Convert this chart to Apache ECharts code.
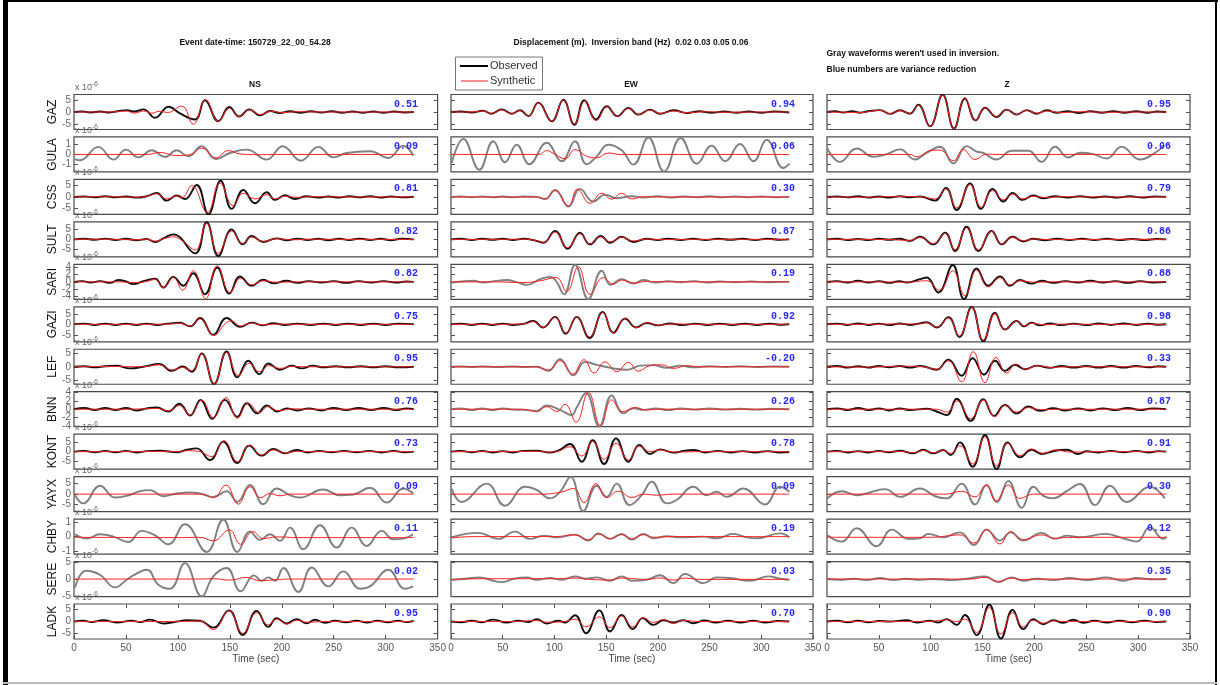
<!DOCTYPE html>
<html><head><meta charset="utf-8">
<script src="https://cdn.jsdelivr.net/npm/echarts@6/dist/echarts.min.js"></script>
<style>html,body{margin:0;padding:0;background:#fff}#c{width:1220px;height:685px}</style>
</head><body><div id="c"></div>
<script>
// ---------------- DATA ----------------
const stations = ['GAZ','GULA','CSS','SULT','SARI','GAZI','LEF','BNN','KONT','YAYX','CHBY','SERE','LADK'];
const components = ['NS','EW','Z'];
const yLimits = [7.3,1.8,7.6,8.75,4.9,8.3,6.4,4.2,9.2,8.3,1.23,5.15,7.2];
const yTickSets = [[-5,0,5],[-1,0,1],[-5,0,5],[-5,0,5],[-4,-2,0,2,4],[-5,0,5],[-5,0,5],[-4,-2,0,2,4],[-5,0,5],[-5,0,5],[-1,0,1],[-5,0,5],[-5,0,5]];
const xTicks = [0,50,100,150,200,250,300,350];
const vrNS = ['0.51','0.09','0.81','0.82','0.82','0.75','0.95','0.76','0.73','0.09','0.11','0.02','0.95'];
const vrEW = ['0.94','0.06','0.30','0.87','0.19','0.92','-0.20','0.26','0.78','0.09','0.19','0.03','0.70'];
const vrZ  = ['0.95','0.06','0.79','0.86','0.88','0.98','0.33','0.87','0.91','0.30','0.12','0.35','0.90'];
const usedNS = [1,0,1,1,1,1,1,1,1,0,0,0,1];
const usedEW = [1,0,0,1,0,1,0,0,1,0,0,0,1];
const usedZ  = [1,0,1,1,1,1,1,1,1,0,0,0,1];

// waveforms: flat [time(s), value(x1e-6), ...]
const GAZ_NS_obs = [0,0, 8,0.2, 16,-0.2, 25,0.2, 33,-0.2, 42,0.3, 51,0.8, 58,0.2, 67,1.1, 78,-2.4, 91,2.2, 102,-0.6, 116.5,-3.1, 126,4.9, 139,-3.8, 149.5,2.1, 159,-1.9, 168.7,1.1, 179,-1.4, 189,0.4, 198,-0.4, 208,0.3, 218,-0.3, 228,0.3, 238,-0.2, 248,0.3, 258,-0.3, 268,0.2, 278,-0.3, 288,0.2, 298,-0.3, 308,0.2, 318,-0.2, 327,0];
const GAZ_NS_syn = [0,0, 20,0, 40,0.1, 51,0.4, 58,-0.5, 67,0.4, 75,-0.5, 82,0.3, 90,-0.2, 103.6,2.5, 114.8,-5.1, 126.7,5.1, 139,-3.8, 149.5,1.5, 159,-1.9, 169,0.9, 179,-1.1, 190,0.3, 200,-0.2, 215,0.1, 240,0, 327,0];
const GAZ_EW_obs = [0,0, 10,0.2, 20,-0.2, 31,0.5, 39,-0.7, 49,1.1, 58.7,-0.7, 66.7,0.7, 74.8,-1.7, 84.4,3.9, 97.4,-3.9, 108.6,5.1, 119.2,-5.3, 128.9,4.9, 140.2,-3.1, 150.6,2.4, 160.8,-1.8, 171.5,1.7, 181.1,-1.1, 192.4,1.0, 202,-0.7, 215,0.7, 228,-0.4, 240,0.3, 252,-0.3, 264,0.2, 276,-0.3, 288,0.2, 300,-0.3, 312,0.2, 327,-0.2];
const GAZ_EW_syn = [0,0, 20,0, 31,0.4, 39,-0.6, 49,0.9, 58.7,-0.8, 66.7,0.6, 74.8,-1.5, 84.4,3.7, 97.4,-3.8, 108.6,5.0, 119.2,-5.0, 129.5,4.7, 140.5,-3.6, 151,2.2, 161,-1.9, 171.5,1.4, 181.5,-1.0, 192.4,0.8, 202,-0.6, 215,0.4, 228,-0.3, 245,0.1, 270,-0.1, 300,0, 327,0];
const GAZ_Z_obs = [0,0, 8,0.3, 15.7,-0.2, 24,0.3, 31.8,-0.3, 41,0.4, 51.1,0.8, 60.7,-0.8, 70.4,0.7, 80,-0.7, 88,3.05, 99.3,-6.0, 111.5,7.2, 122.4,-6.9, 133,5.6, 143.3,-3.5, 152.3,1.8, 163.6,-2.1, 173.2,1.0, 182.9,-1.1, 192.5,0.8, 202.2,-0.7, 211.8,0.7, 222,-0.3, 232,0.3, 243,-0.4, 254,0.3, 265,-0.3, 276,0.3, 287,-0.3, 298,0.3, 309,-0.3, 318,0.2, 327,0];
const GAZ_Z_syn = [0,0, 15.7,-0.1, 31.8,-0.2, 51.1,0.7, 60.7,-0.7, 70.4,0.6, 80,-0.6, 88,2.9, 99.3,-6.0, 111.5,7.2, 122.4,-7.0, 133,6.0, 143.3,-3.6, 152.3,1.7, 163.6,-2.0, 173.2,0.9, 182.9,-1.0, 192.5,0.6, 202.2,-0.5, 211.8,0.4, 225,-0.2, 245,0.1, 270,-0.1, 300,0, 327,0];

const GULA_NS_obs = [1,-0.47, 5.8,-0.6, 23.4,0.78, 37.9,-0.53, 50,0.5, 61.9,-0.3, 74.8,0.43, 87.6,-0.26, 98.8,0.43, 110,-0.2, 122.9,0.85, 136.7,-0.47, 150.2,0.15, 166.2,0.5, 185.5,-0.53, 200.8,0.85, 218.5,-0.64, 235.2,0.78, 249.6,-0.3, 262.5,0.15, 284.9,0.33, 302.6,-0.36, 317,0.9, 326.6,-0.12];
const GULA_NS_syn = [0,0, 70,0, 82.8,0.2, 99.1,-0.12, 111.9,0.0, 122.9,0.65, 136.7,-0.36, 148.5,0.4, 159.8,0.05, 179,-0.02, 200,0, 327,0];
const GULA_EW_obs = [0.6,-0.88, 11.9,1.6, 27.4,-1.57, 40.9,1.36, 52.2,-0.8, 63.5,1.0, 75.7,-1.0, 92.5,1.2, 107,-0.7, 119.9,1.36, 131.2,-1.0, 140.9,-0.2, 152.1,1.0, 165,0.43, 176.3,-1.05, 190.8,1.75, 206,-1.75, 222.1,1.7, 237.6,-0.95, 252.1,0.9, 265,-0.7, 279.5,1.08, 292.3,-0.7, 305.3,1.5, 321.3,-1.4, 327.2,-0.95];
const GULA_EW_syn = [0,0, 85,0, 92.5,0.4, 100,0.05, 110.2,-0.45, 119.9,0.5, 131.2,-0.19, 140.9,-0.35, 152.1,0.15, 163.4,0, 327,0];
const GULA_Z_obs = [0.3,0.62, 12.5,-0.76, 28.6,0.62, 44.7,-0.24, 57.5,0.03, 70.4,0.52, 84.8,-0.52, 96.1,0.17, 108.9,0.79, 121.8,-0.93, 134.6,0.86, 144.3,0.28, 150.7,0.17, 163.6,-0.52, 178,0.38, 194.1,0.38, 206.9,-0.76, 219.8,0.79, 232.6,-0.31, 243.9,0.17, 256.7,0.03, 269.6,-0.41, 284.1,0.79, 301.7,-0.52, 317.8,0.28, 324.2,0.86];
const GULA_Z_syn = [0,0, 80,0, 86.5,-0.24, 99.3,0.38, 108.9,0.45, 121.8,-0.65, 131.4,0.5, 142.7,-0.52, 153.9,0.03, 165,0, 327,0];

const CSS_NS_obs = [0,0, 10,0.2, 20,-0.2, 30,0.3, 40,-0.2, 50,0.2, 60,-0.3, 70,0.3, 79.6,1.7, 89.2,-1.6, 98.8,0.6, 106.8,-0.9, 118.1,5.2, 129.3,-7.5, 141.2,7.0, 151.8,-5.2, 163,3.0, 174.2,-2.75, 185.5,2.0, 193.5,-1.3, 203.1,0.7, 212.7,-0.9, 224,0.3, 235,-0.3, 245,0.2, 255,-0.3, 265,0.3, 275,-0.2, 285,0.3, 295,-0.3, 305,0.2, 315,-0.2, 327,0.1];
const CSS_NS_syn = [0,0, 30,0.1, 60,-0.1, 70,0.2, 79.6,1.4, 89.2,-0.9, 98.8,0.4, 104,-0.3, 113.3,4.9, 128.3,-6.7, 140.5,6.0, 153.3,-3.8, 163,1.6, 174.2,-0.9, 185.5,1.0, 193.5,-0.9, 203.1,0.3, 215,-0.2, 230,0.1, 260,0, 327,0];
const CSS_EW_obs = [0,0, 10,0.15, 20,-0.15, 30,0.2, 40,-0.2, 50,0.15, 60,-0.2, 70,0.2, 82.8,0, 90.9,-0.9, 100.6,3.0, 113.5,-4.2, 124.7,3.5, 137.6,-2.0, 148.9,1.0, 160.2,-0.6, 174.7,0.3, 186,-0.3, 200,0.3, 212,-0.3, 225,0.2, 238,-0.2, 250,0.3, 262,-0.2, 275,0.2, 288,-0.2, 300,0.2, 314,-0.2, 327,0];
const CSS_EW_syn = [0,0, 60,0, 82.8,0, 90.9,-0.8, 100.6,2.75, 113.5,-3.9, 122.2,3.3, 134.4,-2.75, 145.7,1.6, 155.4,-1.0, 165,1.6, 174.7,-0.9, 186,0.1, 200,0, 327,0];
const CSS_Z_obs = [0,0, 10,0.2, 20,-0.2, 30,0.3, 40,-0.3, 50,0.2, 60,-0.3, 70,0.3, 80,-0.2, 89.7,0.2, 104.1,-1.6, 114.7,3.9, 125,-5.7, 137.9,5.9, 148.5,-5.2, 159.7,3.5, 170,-2.0, 179,1.7, 188.6,-1.3, 198.9,0.6, 208.5,-0.6, 220,0.3, 232,-0.3, 244,0.3, 256,-0.3, 268,0.2, 280,-0.3, 292,0.3, 304,-0.3, 316,0.2, 327,0];
const CSS_Z_syn = [0,0, 40,-0.1, 70,0.2, 89.7,0.1, 104.1,-0.9, 114.7,3.5, 125,-4.8, 137.9,5.4, 148.5,-4.5, 159.7,2.75, 170,-1.3, 179,1.3, 188.6,-0.9, 198.9,0.3, 210,-0.2, 230,0.1, 260,0, 327,0];

const SULT_NS_obs = [0,0, 10,0.3, 20,-0.2, 30,0.4, 40,-0.3, 50,0.3, 60,-0.4, 70,0.2, 78,-1.3, 86,0.5, 95.6,2.5, 116.5,-7.0, 127.7,8.6, 138.9,-8.3, 151.8,5.0, 162.4,-2.5, 171,1.7, 182.2,-1.3, 195,0.5, 205,-0.4, 215,0.4, 225,-0.3, 235,0.3, 245,-0.4, 255,0.3, 265,-0.3, 275,0.4, 285,-0.3, 295,0.3, 305,-0.4, 315,0.3, 327,0];
const SULT_NS_syn = [0,0, 30,0.1, 60,-0.2, 70,0.1, 78,-0.9, 86,0.3, 95.6,1.3, 104.6,-0.8, 116.5,-5.3, 127.7,8.0, 138.9,-7.0, 151.8,4.2, 162.4,-2.0, 171,1.2, 182.2,-1.0, 195,0.3, 210,-0.2, 230,0.1, 260,0, 327,0];
const SULT_EW_obs = [0,0, 10,0.3, 20,-0.3, 30,0.3, 40,-0.2, 50,0.3, 60,-0.3, 70,0.3, 82.8,-0.8, 89.3,-1.7, 100.6,4.2, 112.8,-4.7, 124.7,3.3, 134.4,-2.5, 144.8,1.7, 153.8,-1.7, 165,1.3, 176.3,-1.3, 189.2,0.3, 200,-0.3, 210,0.4, 222,-0.3, 234,0.3, 246,-0.3, 258,0.3, 270,-0.2, 282,0.3, 294,-0.3, 306,0.3, 318,-0.2, 327,0];
const SULT_EW_syn = [0,0, 40,0, 70,0.1, 82.8,-0.6, 89.3,-1.5, 100.6,3.7, 112.8,-4.2, 124.7,2.8, 134.4,-2.2, 144.8,1.3, 153.8,-1.3, 165,1.2, 176.3,-0.8, 189.2,0.2, 205,-0.1, 230,0, 327,0];
const SULT_Z_obs = [0,0, 10,0.3, 20,-0.3, 30,0.2, 40,-0.3, 50,0.3, 60,-0.2, 70,0.3, 80,-0.8, 89.7,1.3, 102.5,-2.5, 113.8,3.3, 123.4,-5.8, 134.6,6.3, 145.9,-5.8, 158.8,4.2, 168.4,-2.5, 179,1.3, 189.2,-1.0, 198.9,0.3, 210,-0.4, 222,0.3, 234,-0.3, 246,0.3, 258,-0.3, 270,0.3, 282,-0.3, 294,0.2, 306,-0.3, 318,0.2, 327,0];
const SULT_Z_syn = [0,0, 30,0, 60,-0.1, 80,-0.5, 89.7,1.0, 102.5,-2.2, 113.8,3.0, 123.4,-5.3, 134.6,5.8, 145.9,-5.3, 158.8,4.0, 168.4,-2.2, 179,1.0, 189.2,-0.6, 200,0.2, 215,-0.1, 240,0, 327,0];

const SARI_NS_obs = [0,0, 8,0.2, 16,-0.2, 25,0.2, 34.7,-0.3, 42.7,0.5, 50,0.1, 57.1,-0.65, 66,0.1, 78,0.9, 86,-1.6, 95.6,1.4, 105.2,-1.1, 114.8,2.4, 126.1,-3.5, 137.9,4.0, 149.5,-3.3, 159.8,1.5, 171,-1.1, 182.2,0.6, 191.8,-0.4, 204.7,0.3, 215,-0.3, 226,0.2, 238,-0.2, 250,0.2, 262,-0.3, 274,0.2, 286,-0.2, 298,0.2, 310,-0.2, 320,0.1, 327,0];
const SARI_NS_syn = [0,0, 40,0, 60,-0.2, 70,0.1, 78,0.65, 86,-1.6, 95.6,1.2, 104.6,-2.35, 114.8,3.1, 126.7,-4.7, 137.9,4.5, 150.1,-3.0, 160.4,1.0, 171,-0.85, 182.2,0.3, 195,-0.1, 220,0, 327,0];
const SARI_EW_obs = [0.6,-0.2, 10,0.1, 21.6,0.3, 31.2,-0.2, 42,0.2, 53.8,0.5, 63,0, 73.2,-0.85, 86.1,0.75, 95.7,1.4, 101.5,0.3, 109.3,-3.5, 119.9,4.7, 132.8,-4.85, 145.7,3.1, 154.4,-0.85, 165,0.75, 176.3,-0.5, 186,0.5, 198,-0.2, 210,0.2, 222,-0.1, 235,0.2, 248,-0.2, 260,0.1, 275,-0.1, 290,0.1, 305,-0.1, 320,0, 327,0];
const SARI_EW_syn = [0,0, 40,0, 70,-0.2, 86.1,0.3, 101.5,1.2, 111.9,-2.7, 123.1,4.2, 134.4,-3.5, 147.3,1.2, 157,-0.65, 165,0.5, 176.3,-0.3, 190,0.1, 210,0, 327,0];
const SARI_Z_obs = [0,0, 10,0.2, 20,-0.2, 30,0.3, 40,-0.2, 50,0.2, 60,-0.3, 70,0.2, 76.8,-0.2, 89.7,0.75, 96.1,1.2, 107.3,-3.0, 121.2,4.7, 132.1,-4.85, 144.3,3.75, 155.5,-1.1, 166.8,1.5, 176.4,-1.1, 186,0.5, 197.3,-0.5, 207,0.3, 218,-0.3, 230,0.2, 242,-0.2, 254,0.3, 266,-0.2, 278,0.2, 290,-0.3, 302,0.2, 314,-0.2, 327,0];
const SARI_Z_syn = [0,0, 40,0, 76.8,-0.1, 96.1,0.3, 108.3,-2.35, 121.2,3.1, 133,-3.9, 144.3,3.3, 155.5,-1.4, 166.8,1.2, 176.4,-0.85, 186,0.3, 200,-0.1, 220,0, 327,0];

const GAZI_NS_obs = [0,0, 10,0.3, 20,-0.3, 30,0.3, 40,-0.3, 50,0.3, 60,-0.3, 70,0.3, 80,-0.3, 90,0.3, 102,0.7, 112,-1.0, 121.3,3.0, 134,-5.0, 146.9,3.0, 160,-1.2, 171.3,0.8, 181,-0.5, 192,0.5, 203,-0.3, 215,0.3, 228,-0.3, 240,0.3, 252,-0.3, 264,0.3, 276,-0.3, 288,0.3, 300,-0.3, 312,0.3, 327,0];
const GAZI_NS_syn = [0,0, 50,0, 90,0.1, 102,0.5, 112,-0.8, 121.3,2.6, 134.5,-5.3, 146,0.5, 152,1.6, 160,-0.8, 171,0.6, 181,-0.3, 195,0.1, 220,0, 327,0];
const GAZI_EW_obs = [0,0, 10,0.3, 20,-0.3, 30,0.3, 40,-0.3, 50,0.3, 60,-0.3, 70,0.2, 79.6,1.6, 89,-1.5, 100.6,3.5, 111,-4.5, 121.5,3.5, 134,-6.5, 146.7,5.9, 157,-4.0, 168.3,2.7, 179,-1.5, 189.2,0.6, 200,-0.5, 212,0.4, 224,-0.4, 236,0.3, 248,-0.3, 260,0.3, 272,-0.3, 284,0.3, 296,-0.3, 308,0.3, 320,-0.2, 327,0];
const GAZI_EW_syn = [0,0, 40,0, 70,0.2, 79.6,1.3, 89,-1.5, 100.6,3.2, 111,-4.2, 121.5,3.6, 134,-6.0, 146.7,5.5, 157.5,-4.3, 168.8,3.0, 179.5,-1.6, 190,0.8, 200,-0.4, 215,0.2, 240,0, 327,0];
const GAZI_Z_obs = [0,0, 10,0.3, 20,-0.3, 30,0.4, 40,-0.3, 50,0.3, 60,-0.4, 70,0.4, 80,-0.3, 88,0.3, 96.1,1.0, 106,-1.5, 117,3.4, 127.6,-6.0, 139.5,8.2, 150.7,-8.0, 162,5.5, 171.6,-2.5, 182.9,1.6, 190,-1.0, 197.3,0.8, 205,-0.5, 215,0.4, 226,-0.4, 238,0.3, 250,-0.4, 262,0.4, 274,-0.3, 286,0.4, 298,-0.3, 310,0.3, 320,-0.2, 327,0];
const GAZI_Z_syn = [0,0, 40,0, 70,0.2, 88,0.1, 96.1,0.8, 106,-1.3, 117,3.0, 127.6,-5.6, 139.5,8.0, 150.7,-7.5, 162,5.0, 171.6,-2.4, 182.9,1.4, 190,-0.8, 197.3,0.5, 210,-0.2, 230,0.1, 260,0, 327,0];

const LEF_NS_obs = [0,0, 10,0.2, 20,-0.2, 30,0.2, 41.1,0.37, 53.9,-0.6, 66.7,0, 82.1,1.0, 94,-1.5, 104.6,0.1, 113.3,-1.8, 122.9,4.9, 134.8,-6.3, 146.9,5.6, 157.2,-3.9, 167.8,2.2, 178.4,-2.7, 187,1.2, 198.3,-1.1, 209.5,0.4, 219.2,-0.6, 229.7,0.4, 240,-0.2, 252,0.2, 264,-0.2, 276,0.2, 288,-0.2, 300,0.2, 312,-0.2, 327,0];
const LEF_NS_syn = [0,0, 40,0.1, 66.7,0, 82.1,0.75, 94,-1.2, 104.6,-0.25, 113.3,-1.5, 122.9,4.7, 134.8,-6.3, 146.9,5.3, 158.1,-3.3, 168.7,1.3, 178.4,-1.8, 187.9,0.4, 198.3,-0.6, 210,0.1, 230,0, 327,0];
const LEF_EW_obs = [0,0, 10,0.1, 20,-0.1, 30,0.1, 45,-0.1, 60,0.1, 72,-0.1, 82.8,0, 94.1,-1.5, 105.4,2.8, 118.3,-3.1, 129.6,1.8, 140.9,0.7, 157,-0.6, 169.9,-1.1, 182.8,0.4, 195.6,0.6, 208.6,-0.4, 221.4,0.4, 235,-0.2, 250,0.2, 265,-0.1, 280,0.2, 295,-0.1, 310,0.1, 327,0];
const LEF_EW_syn = [0,0, 70,0, 82.8,0, 94.1,-1.2, 105.4,2.2, 117.6,-2.7, 128.6,2.6, 138.3,-2.3, 148.9,1.8, 160.2,-1.8, 171.5,1.6, 181.1,-1.6, 192.4,0.4, 203.7,0.7, 215,-0.6, 227.9,0.4, 240,0, 327,0];
const LEF_Z_obs = [0,0, 10,0.3, 20,-0.3, 30,0.2, 40,-0.3, 50,0.3, 60,-0.2, 70,0.3, 80,-0.3, 90,0.3, 105.7,-1.1, 117,2.6, 129.8,-3.3, 140.4,3.1, 151.4,-2.9, 162,2.2, 171.6,-1.5, 181.2,0.7, 190.9,-0.9, 202.2,0.4, 215,-0.4, 226,0.3, 238,-0.3, 250,0.3, 262,-0.3, 274,0.3, 286,-0.3, 298,0.3, 310,-0.2, 320,0.2, 327,0];
const LEF_Z_syn = [0,0, 40,-0.1, 70,0.2, 90,0.1, 105.7,-0.9, 117,2.2, 129.8,-5.5, 141,5.5, 152.3,-5.8, 162.9,3.4, 173.2,-2.3, 182.2,1.0, 191.8,-0.9, 202.2,0.4, 215,-0.2, 235,0, 327,0];

const BNN_NS_obs = [0,0, 10,0.3, 20,-0.2, 30,0.3, 40,-0.2, 50,0.3, 60,-0.3, 70,0.2, 79.6,0.4, 90.8,-0.55, 101.4,1.3, 111.7,-1.5, 121.9,2.2, 133.1,-2.3, 145.3,2.25, 157.2,-1.8, 166.2,1.45, 176.4,-1.0, 185.5,0.9, 195.7,-0.55, 204.7,0.2, 215,-0.3, 226,0.2, 238,-0.3, 250,0.3, 262,-0.2, 274,0.3, 286,-0.2, 298,0.3, 310,-0.2, 320,0.2, 327,0];
const BNN_NS_syn = [0,0, 40,0, 70,0.1, 79.6,0.2, 90.8,-0.4, 101.4,0.9, 111.7,-1.4, 122.9,2.2, 134,-2.0, 146.3,2.8, 157.2,-2.2, 167.8,1.45, 178.4,-0.8, 187,0.65, 196.7,-0.4, 210,0.1, 230,0, 327,0];
const BNN_EW_obs = [0,0, 10,0.2, 20,-0.2, 30,0.2, 40,-0.2, 50,0.2, 60,-0.1, 69.9,-0.15, 82.8,-0.4, 92.5,0.9, 105.4,-0.15, 116.7,-1.4, 121.5,0.4, 130.5,3.9, 143.4,-4.1, 155.4,3.3, 166.7,-1.0, 176.3,0.25, 186,-0.15, 198,0.2, 210,-0.2, 222,0.2, 236,-0.1, 250,0.2, 265,-0.1, 280,0.1, 295,-0.1, 310,0.1, 327,0];
const BNN_EW_syn = [0,0, 50,0, 70,0, 82.8,-0.6, 92.5,0.65, 102.2,-0.55, 110.2,1.2, 120.9,-3.1, 132.8,4.0, 144.7,-4.0, 155.4,2.25, 166,-0.6, 177.9,0.4, 189.2,-0.2, 200,0, 327,0];
const BNN_Z_obs = [0,0, 10,0.2, 20,-0.2, 30,0.3, 40,-0.2, 50,0.2, 60,-0.3, 70,0.2, 80,-0.2, 96.1,0.1, 105.7,-0.55, 115.4,-1.4, 125,2.5, 138.5,-2.8, 150.7,2.4, 161,-1.6, 171.6,1.0, 182.9,-1.0, 194.1,0.65, 205.3,-0.4, 218.2,0.25, 230,-0.3, 242,0.2, 254,-0.3, 266,0.2, 278,-0.2, 290,0.3, 302,-0.2, 314,0.2, 327,0];
const BNN_Z_syn = [0,0, 50,0, 96.1,0, 105.7,0, 115.4,-0.7, 125.7,2.0, 138.5,-2.3, 150.7,2.25, 162,-1.8, 171.6,0.9, 182.9,-0.7, 194.1,0.4, 205,-0.1, 225,0, 327,0];

const KONT_NS_obs = [0,0, 10,0.4, 20,-0.3, 30,0.4, 40,-0.3, 50,0.4, 60,-0.4, 70,0.3, 82.8,0.5, 99.1,-0.35, 108.5,1.0, 118.1,1.75, 130.9,-4.4, 143.7,5.3, 157.2,-6.0, 168.7,3.2, 180.6,-2.1, 191.8,1.4, 203.1,-0.9, 214.3,0.9, 225,-0.4, 236,0.4, 248,-0.3, 260,0.4, 272,-0.3, 284,0.4, 296,-0.4, 308,0.4, 318,-0.3, 327,0];
const KONT_NS_syn = [0,0, 50,0, 82.8,0.1, 99.1,0, 108.5,0.5, 119.7,0.2, 132.5,-2.6, 144.4,5.8, 157.2,-5.3, 169.4,3.5, 180.6,-1.75, 191.8,1.0, 203.1,-0.7, 215,0.2, 230,0, 327,0];
const KONT_EW_obs = [0,0, 10,0.4, 20,-0.3, 30,0.4, 40,-0.4, 50,0.3, 60,-0.4, 70,0.4, 82.8,0.5, 95.7,-0.5, 103.8,0.5, 115.1,4.0, 126.4,-5.3, 137,6.1, 148,-6.5, 159.6,7.0, 171.5,-5.3, 182.1,3.5, 192.4,-1.2, 202.1,1.2, 215,-0.5, 225,0.4, 234.3,0.9, 246,-0.4, 258,0.4, 270,-0.4, 282,0.3, 294,-0.4, 306,0.3, 318,-0.4, 327,-0.2];
const KONT_EW_syn = [0,0, 50,0, 82.8,0.2, 95.7,-0.2, 103.8,0.3, 115.1,2.6, 126.4,-2.3, 137,5.3, 148,-4.0, 159.6,4.4, 171.5,-4.4, 182.1,3.0, 192.4,0, 202.1,0.9, 215,-0.2, 240,0, 327,0];
const KONT_Z_obs = [0,0, 10,0.4, 20,-0.4, 30,0.3, 40,-0.4, 50,0.4, 60,-0.3, 70.4,0.5, 83.2,-0.9, 92.8,1.0, 102.5,-0.9, 112.1,0.9, 119.2,-1.75, 128.2,4.9, 140.4,-7.9, 152.3,8.8, 163.6,-9.1, 174.2,4.9, 186,-3.0, 197.3,1.0, 207,-1.2, 219.8,0.5, 231.1,1.0, 242.3,-1.2, 250.3,0.2, 262,-0.4, 274,0.4, 286,-0.3, 298,0.4, 310,-0.4, 320,0.3, 327,0];
const KONT_Z_syn = [0,0, 50,0, 70.4,0.2, 83.2,-0.5, 92.8,0.6, 102.5,-0.6, 112.1,0.6, 119.2,-0.9, 128.2,3.2, 140.4,-6.5, 152.3,7.9, 163.6,-7.4, 174.2,4.4, 186,-2.1, 197.3,1.4, 208.5,-0.9, 219.8,0.9, 235,-0.2, 260,0, 327,0];

const YAYX_NS_obs = [1,-0.5, 8.9,-4.4, 25,4.0, 39.5,-1.6, 50.7,-0.8, 63.5,1.4, 73.2,1.9, 86,-1.0, 98.8,0.3, 111.7,0.8, 121.3,0.3, 134.1,-1.3, 147,1.4, 157.2,-3.7, 169.4,4.3, 182.2,-4.8, 195,2.7, 207.9,-0.5, 217.5,-1.6, 240,2.2, 256,-0.5, 268.8,-0.2, 284.9,3.0, 301,-4.0, 317,2.7, 326.6,0.3];
const YAYX_NS_syn = [0,0, 100,0, 121.3,0, 127.7,-0.5, 134.1,-1.7, 146.3,4.3, 158.1,-4.8, 169.4,3.5, 179.7,-1.7, 188.7,0.3, 198.3,-0.8, 207.9,0, 220,0, 327,0];
const YAYX_EW_obs = [0.6,2.7, 10.3,-3.7, 34.5,5.0, 52.2,-5.5, 71.6,3.5, 82.8,2.0, 95.7,-2.0, 105.4,1.1, 115.7,8.2, 127.9,-8.0, 140.9,4.0, 150.5,-1.3, 160.2,5.0, 172.5,-5.2, 184.4,-0.5, 194,5.9, 208.6,-4.4, 218.2,-2.8, 234.3,3.5, 247.3,-0.5, 256.9,1.1, 266.6,-1.3, 282.7,2.7, 303.6,-4.9, 318.1,3.5, 327.2,1.1];
const YAYX_EW_syn = [0,0, 70,0, 82.8,0, 105.4,0.8, 118.3,2.7, 128.6,-4.0, 140.2,5.0, 150.5,-1.7, 161.8,1.4, 174.7,-1.6, 186,0, 198.9,-0.5, 215,0, 327,0];
const YAYX_Z_obs = [0.3,-2.0, 14.1,1.4, 28.6,-0.5, 38.2,0.3, 55.9,2.4, 70.4,-1.3, 89.7,2.7, 104.1,-1.0, 115.4,-2.0, 129.8,5.0, 142.7,-4.9, 153.9,4.3, 163.6,-3.7, 174.8,6.3, 187.7,-6.5, 198.9,3.5, 208.5,-0.8, 218.2,-2.0, 231.1,1.4, 243.9,4.8, 258.4,-5.2, 272.8,4.0, 288.9,-3.7, 311.4,3.5, 325.8,-2.0];
const YAYX_Z_syn = [0,0, 100,0, 115.4,0, 129.8,1.4, 142.7,-1.3, 153.3,4.3, 162.9,-3.3, 174.8,4.3, 186,-2.0, 198.9,0, 215,0, 327,0];

const CHBY_NS_obs = [1,0.16, 12.2,-0.14, 25,0.16, 37.9,0, 52.3,-0.38, 65.1,0.4, 78,0.09, 90.8,-0.54, 106.8,0.87, 127.7,-1.08, 143.7,1.2, 157.2,-1.08, 169.4,0.35, 179,-0.23, 188.7,0.16, 198.3,-0.3, 207.9,0.63, 220.7,-0.89, 236.8,0.8, 252.8,-0.77, 267.3,0.63, 281.7,-0.66, 296.2,0.4, 307.3,-0.19, 317,-0.14, 326.6,0.16];
const CHBY_NS_syn = [0,-0.05, 100,-0.07, 121.3,-0.05, 134.1,-0.3, 149.5,0.47, 160.4,-0.54, 172,0.35, 182.2,-0.14, 195,-0.02, 215,-0.07, 327,-0.07];
const CHBY_EW_obs = [0.6,-0.05, 26.4,0.26, 45.7,-0.16, 61.9,0.35, 76.4,-0.16, 89.3,0.07, 103.8,-0.05, 119.9,0.14, 132.8,-0.28, 142.5,0.23, 153.8,-0.16, 165,0.19, 174.7,-0.21, 186,0.19, 195.6,-0.12, 208.6,0.02, 221.4,-0.05, 244,0, 256.9,-0.12, 273,0.19, 285.9,-0.05, 295.6,-0.12, 318.1,0.23, 327.2,-0.05];
const CHBY_EW_syn = [0,-0.1, 21.6,0, 100,0, 119.9,0.12, 132.8,-0.23, 142.5,0.19, 153.8,-0.16, 165,0.14, 174.7,-0.16, 186,0.14, 195.6,-0.05, 210,0, 327,0];
const CHBY_Z_obs = [0.3,0.12, 14.1,-0.35, 28.6,0.59, 47.9,-0.68, 62.4,0.49, 78.4,-0.16, 89.7,-0.12, 97.7,0.19, 112.1,-0.05, 128.2,0.3, 141.7,-0.59, 153.9,0.49, 166.8,-0.28, 177.1,0.3, 189.2,-0.28, 207,0.26, 219.8,-0.16, 231.1,0.07, 243.9,-0.05, 268,0.19, 285.6,-0.12, 298.5,-0.35, 311.4,0.66, 324.2,-0.16, 327.5,0];
const CHBY_Z_syn = [0,-0.05, 100,-0.05, 128.2,0.12, 141.7,-0.45, 153.9,0.49, 166.8,-0.52, 177.1,0.35, 189.2,-0.21, 207,0.12, 219.8,-0.12, 235,-0.05, 327,-0.05];

const SERE_NS_obs = [1,-2.45, 11.5,2.45, 25,1.27, 39.5,-2.45, 50.7,-0.2, 57.1,1.08, 70,2.75, 81.2,-1.67, 92.4,-2.84, 106.8,4.7, 122.9,-5.05, 134.1,0.78, 146.9,3.24, 160.4,-3.6, 173.3,1.08, 180.6,-0.5, 187,0.5, 193.5,-0.5, 201.5,3.24, 215.9,-3.8, 228.8,3.4, 244.8,-2.16, 259.2,2.25, 275.3,-2.84, 284.9,-2.16, 302.6,2.75, 318.6,-2.84, 326.6,-2.16];
const SERE_NS_syn = [0,0, 120,0, 134.1,0.1, 150,-0.3, 166.2,0.5, 179,-0.5, 193.5,-0.2, 210,0, 327,0];
const SERE_EW_obs = [0.6,-0.2, 13.5,0.1, 28,0.5, 40.9,-0.5, 49,-0.9, 60.3,0.1, 73.2,0.5, 82.8,-0.2, 95.7,0.3, 107,-0.2, 119.9,0.8, 131.2,0.1, 140.9,0.5, 153.8,-0.5, 165,0.8, 174.7,-0.5, 189.2,-0.2, 202.1,1.1, 215,-1.2, 226.3,1.5, 244,-1.2, 256.9,0.5, 269.8,0.3, 289.1,-0.5, 306.9,0.8, 318.1,0.1, 327.2,-0.2];
const SERE_EW_syn = [0,-0.2, 28,0.1, 100,0.1, 119.9,0.3, 131.2,0, 153.8,-0.3, 165,0.3, 189.2,-0.1, 202.1,0.3, 215,-0.3, 226.3,0.3, 240,-0.1, 327,-0.1];
const SERE_Z_obs = [0.3,0, 12.5,-0.2, 25.4,0.1, 38.2,-0.3, 51.1,0.3, 63.9,-0.3, 76.8,0.1, 89.7,-0.2, 102.5,0, 121.8,-0.3, 134.6,0.1, 152.3,0.8, 165.2,-0.9, 178,0.5, 189.2,-0.5, 202.1,0.1, 218.2,-0.3, 234.3,0.3, 250.3,-0.3, 269.6,0.5, 285.7,-0.5, 298.5,0.3, 314.6,-0.1, 327.5,0];
const SERE_Z_syn = [0,0, 137.9,0, 152.3,0.5, 165.2,-0.7, 178,0.3, 189.2,-0.2, 200,0, 327,0];

const LADK_NS_obs = [0,0, 9,0.3, 17,-0.2, 28.2,0.5, 41.1,-0.4, 55.5,0.3, 64,-0.2, 73.2,0.8, 86,-0.8, 99.1,0, 108.5,0.55, 121.3,0.3, 134.1,-2.5, 149.2,4.6, 162.4,-5.5, 175.8,4.4, 187,-2.2, 195,1.4, 204.7,-0.8, 214.3,1.0, 224,-0.7, 232,0.7, 241.6,-0.5, 251.2,0.3, 262,-0.3, 272,0.3, 282,-0.4, 292,0.3, 302,-0.3, 312,0.3, 320,-0.2, 327,0.2];
const LADK_NS_syn = [0,0, 50,0, 100,0, 121.3,0.2, 134.1,-3.3, 149.2,4.4, 162.4,-4.9, 175.8,3.6, 187,-1.4, 195,1.0, 204.7,-1.1, 214.3,0.5, 224,-0.3, 240,0, 327,0];
const LADK_EW_obs = [0,0, 10,-0.3, 20,0.3, 30,-0.3, 40.9,0.8, 53.8,-0.4, 65,0.3, 75,-0.2, 82.8,1.0, 92.5,-0.8, 103.8,0.3, 110.2,-0.4, 119.9,2.6, 130.5,-4.8, 143.4,4.6, 153.8,-4.1, 165,2.7, 175.7,-3.1, 185.4,1.4, 195.6,-1.4, 205.3,0.5, 215,-0.4, 224.6,0.5, 234.3,-0.7, 245,0.4, 256,-0.4, 268,0.3, 280,-0.4, 292,0.3, 304,-0.4, 316,0.2, 327,0];
const LADK_EW_syn = [0,0, 60,0, 82.8,0.4, 92.5,-0.3, 110.2,0, 119.9,1.0, 130.5,-2.2, 143.4,1.9, 153.8,-2.5, 165,2.3, 175.7,-2.2, 186,1.6, 195.6,-0.4, 205.3,0.8, 215,-0.8, 224.6,0.5, 240,0, 327,0];
const LADK_Z_obs = [0,0, 10,0.3, 20,-0.3, 30,0.3, 40,-0.3, 50,0.2, 60.7,0, 76.8,0.5, 86.5,-0.4, 99.3,0.3, 107.3,-0.4, 115.4,1.0, 125,-1.4, 133,2.7, 144.3,-5.6, 156.5,6.9, 167.7,-7.0, 179,4.8, 189.2,-3.1, 198.9,1.0, 208.5,-1.1, 218.2,0.5, 227.8,-0.5, 237.4,0.7, 247,-0.5, 258,0.3, 270,-0.4, 282,0.3, 294,-0.3, 306,0.3, 318,-0.2, 327,0];
const LADK_Z_syn = [0,0, 60,0, 100,0.1, 115.4,0.7, 125,0, 133,1.0, 144.3,-4.5, 156.5,5.7, 167.7,-5.2, 179,3.7, 189.2,-2.2, 198.9,0.5, 208.5,-0.7, 218.2,0.3, 230,0, 327,0];

// lookup tables built from the named arrays
const OBS = [
  [GAZ_NS_obs,GAZ_EW_obs,GAZ_Z_obs],[GULA_NS_obs,GULA_EW_obs,GULA_Z_obs],[CSS_NS_obs,CSS_EW_obs,CSS_Z_obs],
  [SULT_NS_obs,SULT_EW_obs,SULT_Z_obs],[SARI_NS_obs,SARI_EW_obs,SARI_Z_obs],[GAZI_NS_obs,GAZI_EW_obs,GAZI_Z_obs],
  [LEF_NS_obs,LEF_EW_obs,LEF_Z_obs],[BNN_NS_obs,BNN_EW_obs,BNN_Z_obs],[KONT_NS_obs,KONT_EW_obs,KONT_Z_obs],
  [YAYX_NS_obs,YAYX_EW_obs,YAYX_Z_obs],[CHBY_NS_obs,CHBY_EW_obs,CHBY_Z_obs],[SERE_NS_obs,SERE_EW_obs,SERE_Z_obs],
  [LADK_NS_obs,LADK_EW_obs,LADK_Z_obs]];
const SYN = [
  [GAZ_NS_syn,GAZ_EW_syn,GAZ_Z_syn],[GULA_NS_syn,GULA_EW_syn,GULA_Z_syn],[CSS_NS_syn,CSS_EW_syn,CSS_Z_syn],
  [SULT_NS_syn,SULT_EW_syn,SULT_Z_syn],[SARI_NS_syn,SARI_EW_syn,SARI_Z_syn],[GAZI_NS_syn,GAZI_EW_syn,GAZI_Z_syn],
  [LEF_NS_syn,LEF_EW_syn,LEF_Z_syn],[BNN_NS_syn,BNN_EW_syn,BNN_Z_syn],[KONT_NS_syn,KONT_EW_syn,KONT_Z_syn],
  [YAYX_NS_syn,YAYX_EW_syn,YAYX_Z_syn],[CHBY_NS_syn,CHBY_EW_syn,CHBY_Z_syn],[SERE_NS_syn,SERE_EW_syn,SERE_Z_syn],
  [LADK_NS_syn,LADK_EW_syn,LADK_Z_syn]];
const VR = [vrNS, vrEW, vrZ];
const USED = [usedNS, usedEW, usedZ];

// ---------------- LAYOUT ----------------
const colLeft = [74, 451, 827];
const colWidth = [363.6, 362, 363];
const rowTop0 = 94.5, rowStep = 42.46, rowH = 35;
const SANS = '"Liberation Sans", Arial, sans-serif';

function pairs(a){ const o=[]; for(let i=0;i<a.length;i+=2) o.push([a[i],a[i+1]]); return o; }

const grids=[], xAxes=[], yAxes=[], series=[], graphics=[];
const nR = stations.length;
for (let r=0;r<nR;r++){
  const top = rowTop0 + r*rowStep;
  const lim = yLimits[r];
  for (let c=0;c<3;c++){
    const k = r*3+c;
    grids.push({left:colLeft[c], top:top, width:colWidth[c], height:rowH, show:true,
      borderColor:'#4a4a4a', borderWidth:1.2, backgroundColor:'#fff'});
    const last = (r===nR-1);
    xAxes.push({type:'value', gridIndex:k, min:0, max:350, interval:50, position:'bottom',
      axisLine:{show:false, onZero:false}, splitLine:{show:false},
      axisTick:{show:last, inside:true, length:4, lineStyle:{color:'#555'}},
      axisLabel:{show:last, color:'#555', fontSize:10, fontFamily:SANS, margin:4},
      name: last ? 'Time (sec)' : '', nameLocation:'middle', nameGap:15,
      nameTextStyle:{color:'#444', fontSize:10, fontFamily:SANS}});
    yAxes.push({type:'value', gridIndex:k, min:-lim, max:lim, position:'left',
      axisLine:{show:false, onZero:false}, splitLine:{show:false},
      axisTick:{show:true, inside:true, length:4, customValues:yTickSets[r], lineStyle:{color:'#555'}},
      axisLabel:{show:false}});
    yAxes.push({type:'value', gridIndex:k, min:-lim, max:lim, position:'right',
      axisLine:{show:false, onZero:false}, splitLine:{show:false},
      axisTick:{show:true, inside:true, length:4, customValues:yTickSets[r], lineStyle:{color:'#555'}},
      axisLabel:{show:false}});
    series.push({type:'line', name:'Observed', xAxisIndex:k, yAxisIndex:2*k, data:pairs(OBS[r][c]),
      showSymbol:false, symbol:'none', smooth:0.45, silent:true, z:2,
      lineStyle:{color: USED[c][r] ? '#111' : '#808080', width:1.9}});
    series.push({type:'line', name:'Synthetic', xAxisIndex:k, yAxisIndex:2*k, data:pairs(SYN[r][c]),
      showSymbol:false, symbol:'none', smooth:0.45, silent:true, z:3,
      lineStyle:{color:'#ff1f1f', width:1}});
    graphics.push({type:'text', x:colLeft[c]+344, y:top+9.5, z:100,
      style:{text:VR[c][r], fill:'#2a2aff', font:'bold 10px "Liberation Mono", "DejaVu Sans Mono", monospace', align:'right', verticalAlign:'middle'}});
  }
  if (r===nR-1){
    for (let c=0;c<3;c++){
      xAxes.push({type:'value', gridIndex:r*3+c, min:0, max:350, interval:50, position:'top',
        axisLine:{show:false, onZero:false}, splitLine:{show:false},
        axisTick:{show:true, inside:true, length:4, lineStyle:{color:'#555'}}, axisLabel:{show:false}});
    }
  }
  graphics.push({type:'text', x:53, y:top+rowH/2, rotation:Math.PI/2, z:100,
    style:{text:stations[r], fill:'#111', font:'12px '+SANS, align:'center', verticalAlign:'middle'}});
  graphics.push({type:'text', x:75, y:top-6.5, z:50,
    style:{text:'x 10', fill:'#666', font:'9px '+SANS, align:'left', verticalAlign:'middle'}});
  graphics.push({type:'text', x:92, y:top-10, z:50,
    style:{text:'-6', fill:'#666', font:'6.5px '+SANS, align:'left', verticalAlign:'middle'}});
}

const hdr = (t,x,y,al)=>({type:'text', x:x, y:y, z:100, style:{text:t, fill:'#111', font:'bold 8.5px '+SANS, align:al||'center', verticalAlign:'middle'}});
graphics.push(hdr('Event date-time: 150729_22_00_54.28', 255, 42.5));
graphics.push(hdr('Displacement (m).  Inversion band (Hz)  0.02 0.03 0.05 0.06', 631, 42.5));
graphics.push(hdr("Gray waveforms weren't used in inversion.", 826.5, 53.5, 'left'));
graphics.push(hdr('Blue numbers are variance reduction', 826.5, 70, 'left'));
graphics.push(hdr('NS', 255, 85));
graphics.push(hdr('EW', 631, 85));
graphics.push(hdr('Z', 1007, 85));

graphics.push({type:'rect', shape:{x:455.5, y:57, width:87, height:33}, z:100, style:{fill:'#fff', stroke:'#777', lineWidth:1}});
graphics.push({type:'line', shape:{x1:460, y1:66, x2:488, y2:66}, z:101, style:{stroke:'#000', lineWidth:2}});
graphics.push({type:'line', shape:{x1:461, y1:81, x2:488, y2:81}, z:101, style:{stroke:'#ff1f1f', lineWidth:1}});
graphics.push({type:'text', x:490, y:66, z:101, style:{text:'Observed', fill:'#333', font:'11px '+SANS, align:'left', verticalAlign:'middle'}});
graphics.push({type:'text', x:490, y:81, z:101, style:{text:'Synthetic', fill:'#333', font:'11px '+SANS, align:'left', verticalAlign:'middle'}});

graphics.push({type:'rect', shape:{x:3, y:0, width:5, height:685}, z:200, style:{fill:'#000'}});
graphics.push({type:'rect', shape:{x:3, y:0, width:1215, height:2}, z:200, style:{fill:'#000'}});
graphics.push({type:'rect', shape:{x:1215, y:0, width:2, height:685}, z:200, style:{fill:'#000'}});
graphics.push({type:'rect', shape:{x:3, y:682, width:1214, height:2}, z:200, style:{fill:'#bbb'}});

const chart = echarts.init(document.getElementById('c'), null, {renderer:'canvas'});
chart.setOption({
  animation:false,
  backgroundColor:'#fff',
  grid:grids, xAxis:xAxes, yAxis:yAxes, series:series
});

// y tick labels of the first column (drawn without overlap-hiding, as in the reference)
for (let r=0;r<nR;r++){
  yTickSets[r].forEach(v=>{
    const py = chart.convertToPixel({yAxisIndex: 2*(r*3)}, v);
    graphics.push({type:'text', x:71, y:py, z:60,
      style:{text:String(v), fill:'#666', font:'10px '+SANS, align:'right', verticalAlign:'middle'}});
  });
}
chart.setOption({graphic:{elements:graphics}});
</script>
</body></html>
